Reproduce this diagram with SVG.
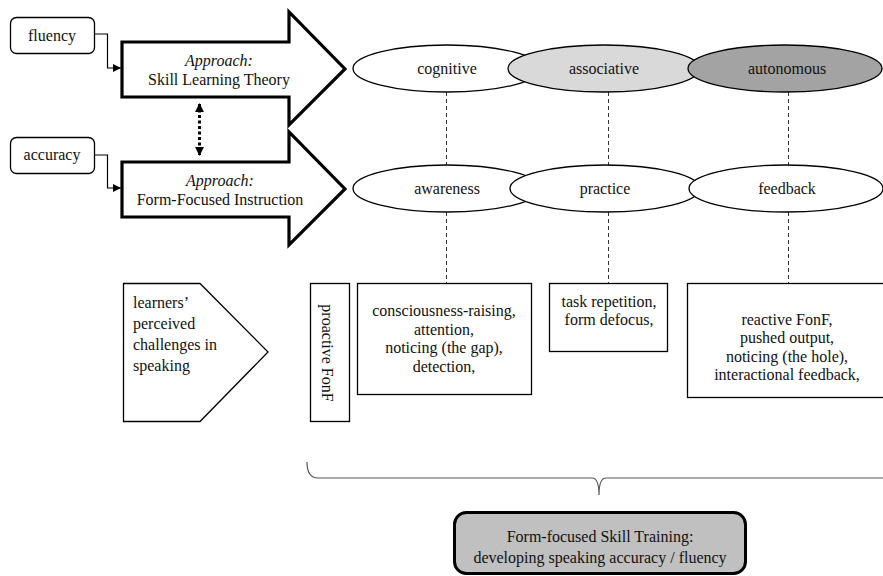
<svg xmlns="http://www.w3.org/2000/svg" width="883" height="576" viewBox="0 0 883 576">
  <defs>
    <marker id="tri" viewBox="0 0 10 10" refX="10" refY="5" markerWidth="8" markerHeight="8" markerUnits="userSpaceOnUse" orient="auto">
      <path d="M0,0 L10,5 L0,10 z" fill="#000"/>
    </marker>
    <marker id="tri2" viewBox="0 0 10 10" refX="9" refY="5" markerWidth="9" markerHeight="9" markerUnits="userSpaceOnUse" orient="auto-start-reverse">
      <path d="M0,0 L10,5 L0,10 z" fill="#000"/>
    </marker>
  </defs>
  <style>
    text { font-family: "Liberation Serif", "Times New Roman", serif; font-size: 16px; fill: #111; }
    .c { text-anchor: middle; }
    .it { font-style: italic; }
    .box { fill: #fff; stroke: #000; stroke-width: 1.3; }
    .big { fill: #fff; stroke: #000; stroke-width: 3.2; stroke-linejoin: miter; }
    .ell { stroke: #000; stroke-width: 1.3; }
    .dash { stroke: #333; stroke-width: 1; stroke-dasharray: 4 3; fill: none; }
    .link { stroke: #000; stroke-width: 1.2; fill: none; }
  </style>
  <rect width="883" height="576" fill="#fff"/>

  <!-- input terms -->
  <g id="fluency">
    <rect class="box" x="10.5" y="17.5" width="84" height="36" rx="6"/>
    <text class="c" x="52" y="41">fluency</text>
  </g>
  <g id="accuracy">
    <rect class="box" x="10.5" y="137.5" width="84" height="36" rx="6"/>
    <text class="c" x="52" y="160">accuracy</text>
  </g>

  <!-- approach arrows -->
  <g id="skill-learning">
    <path class="big" d="M122,42 L289,42 L289,12 L345,69 L289,125 L289,97 L122,97 Z"/>
    <text class="c it" x="219" y="66">Approach:</text>
    <text class="c" x="219" y="85">Skill Learning Theory</text>
  </g>
  <g id="form-focused">
    <path class="big" d="M122,162 L289,162 L289,132 L345,189 L289,245 L289,217 L122,217 Z"/>
    <text class="c it" x="220" y="186">Approach:</text>
    <text class="c" x="220" y="205">Form-Focused Instruction</text>
  </g>

  <!-- connectors -->
  <g id="connectors">
    <path class="link" d="M94.5,34 H107.5 V68 H121" marker-end="url(#tri)"/>
    <path class="link" d="M94.5,155 H107.5 V188 H121" marker-end="url(#tri)"/>
    <line x1="199.5" y1="104" x2="199.5" y2="155" stroke="#000" stroke-width="3" stroke-dasharray="3 2.5" marker-start="url(#tri2)" marker-end="url(#tri2)"/>
    <line class="dash" x1="446.5" y1="92" x2="446.5" y2="165"/>
    <line class="dash" x1="608.5" y1="92" x2="608.5" y2="165"/>
    <line class="dash" x1="788.5" y1="92" x2="788.5" y2="165"/>
    <line class="dash" x1="446.5" y1="212" x2="446.5" y2="283"/>
    <line class="dash" x1="608.5" y1="212" x2="608.5" y2="283"/>
    <line class="dash" x1="788.5" y1="212" x2="788.5" y2="283"/>
    <path d="M307,462 Q307,478 318,478 H592 Q599,478 599,495 Q599,478 606,478 H890" fill="none" stroke="#555" stroke-width="1.2"/>
  </g>

  <!-- skill learning stages -->
  <g id="cognitive">
    <ellipse class="ell" cx="447" cy="68.5" rx="94" ry="23.5" fill="#fff"/>
    <text class="c" x="447" y="74">cognitive</text>
  </g>
  <g id="associative">
    <ellipse class="ell" cx="604" cy="68.5" rx="96" ry="23.5" fill="#d9d9d9"/>
    <text class="c" x="604" y="74">associative</text>
  </g>
  <g id="autonomous">
    <ellipse class="ell" cx="785" cy="68.5" rx="97" ry="23.5" fill="#a3a3a3"/>
    <text class="c" x="787" y="74">autonomous</text>
  </g>

  <!-- form-focused instruction stages -->
  <g id="awareness">
    <ellipse class="ell" cx="447" cy="188.5" rx="94" ry="23.5" fill="#fff"/>
    <text class="c" x="447" y="194">awareness</text>
  </g>
  <g id="practice">
    <ellipse class="ell" cx="605" cy="188.5" rx="95" ry="23.5" fill="#fff"/>
    <text class="c" x="605" y="194">practice</text>
  </g>
  <g id="feedback">
    <ellipse class="ell" cx="786" cy="188.5" rx="97" ry="23.5" fill="#fff"/>
    <text class="c" x="787" y="194">feedback</text>
  </g>

  <!-- challenges -->
  <g id="challenges">
    <path class="box" d="M123.5,283.5 H200 L268,352 L200,421.5 H123.5 Z"/>
    <text x="133" y="308">learners’</text>
    <text x="133" y="329">perceived</text>
    <text x="133" y="350">challenges in</text>
    <text x="133" y="371">speaking</text>
  </g>

  <!-- techniques -->
  <g id="proactive">
    <rect class="box" x="310.5" y="283.5" width="39" height="138"/>
    <text class="c" transform="translate(322,353) rotate(90)">proactive FonF</text>
  </g>
  <g id="awareness-techniques">
    <rect class="box" x="357.5" y="283.5" width="174" height="111"/>
    <text class="c" x="444" y="316">consciousness-raising,</text>
    <text class="c" x="444" y="335">attention,</text>
    <text class="c" x="444" y="353">noticing (the gap),</text>
    <text class="c" x="444" y="372">detection,</text>
  </g>
  <g id="practice-techniques">
    <rect class="box" x="549.5" y="283.5" width="118" height="68"/>
    <text class="c" x="609" y="307">task repetition,</text>
    <text class="c" x="609" y="325">form defocus,</text>
  </g>
  <g id="feedback-techniques">
    <rect class="box" x="687.5" y="283.5" width="210" height="114"/>
    <text class="c" x="787" y="325">reactive FonF,</text>
    <text class="c" x="787" y="343">pushed output,</text>
    <text class="c" x="787" y="362">noticing (the hole),</text>
    <text class="c" x="787" y="380">interactional feedback,</text>
  </g>

  <!-- outcome -->
  <g id="training">
    <rect x="454.5" y="512.5" width="291" height="61" rx="12" fill="#c0c0c0" stroke="#000" stroke-width="3"/>
    <text class="c" x="600" y="542">Form-focused Skill Training:</text>
    <text class="c" x="600" y="563">developing speaking accuracy / fluency</text>
  </g>
</svg>
